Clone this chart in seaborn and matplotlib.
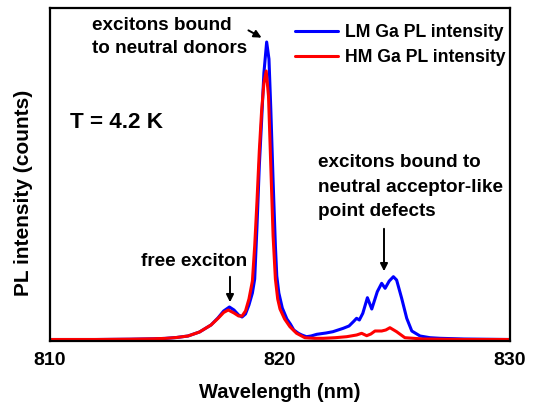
import matplotlib
matplotlib.use("Agg")
import matplotlib.pyplot as plt
from matplotlib.ticker import MultipleLocator
import numpy as np
import pandas as pd
import seaborn as sns

# ---- data (arbitrary intensity units) ----
lm_wavelength = [810.0, 812.0, 813.5, 814.5, 815.0, 815.5, 816.0, 816.5, 817.0, 817.3,
                 817.55, 817.8, 818.0, 818.2, 818.35, 818.5, 818.65, 818.8, 818.9, 819.0,
                 819.1, 819.2, 819.3, 819.42, 819.52, 819.6, 819.7, 819.8, 819.86, 819.95,
                 820.1, 820.3, 820.45, 820.6, 820.8, 820.95, 821.15, 821.35, 821.6, 822.0,
                 822.3, 822.75, 823.0, 823.19, 823.33, 823.45, 823.6, 823.8, 823.99, 824.23,
                 824.42, 824.57, 824.75, 824.93, 825.07, 825.29, 825.51, 825.73, 826.09, 826.52,
                 826.96, 828.0, 830.0]
lm_intensity = [1.5, 1.5, 1.8, 2.2, 2.6, 3.5, 5.0, 9.0, 16.0, 23.0,
                30.0, 34.0, 31.0, 26.0, 24.0, 27.0, 36.0, 48.0, 62.0, 115.0,
                175.0, 220.0, 268.0, 299.0, 282.0, 232.0, 160.0, 95.0, 65.0, 48.0,
                33.0, 22.0, 17.0, 11.0, 7.7, 6.0, 4.3, 5.0, 6.7, 8.0,
                9.3, 12.7, 15.0, 19.3, 22.7, 21.0, 27.7, 43.3, 32.0, 49.3,
                57.7, 52.7, 60.0, 64.3, 61.0, 42.7, 22.7, 10.0, 5.0, 3.3,
                2.7, 2.0, 1.5]

hm_wavelength = [810.0, 812.0, 813.5, 814.5, 815.0, 815.5, 816.0, 816.5, 817.0, 817.3,
                 817.55, 817.75, 818.0, 818.2, 818.35, 818.5, 818.65, 818.8, 818.9, 819.0,
                 819.1, 819.2, 819.3, 819.4, 819.5, 819.6, 819.7, 819.8, 819.9, 820.0,
                 820.2, 820.43, 820.72, 821.08, 821.5, 821.88, 822.4, 822.9, 823.33, 823.55,
                 823.77, 823.95, 824.13, 824.42, 824.6, 824.78, 825.07, 825.43, 826.23, 828.0,
                 830.0]
hm_intensity = [1.5, 1.5, 1.8, 2.2, 2.6, 3.5, 5.0, 9.0, 16.0, 22.5,
                28.5, 31.0, 28.0, 25.0, 25.0, 30.0, 42.0, 60.0, 95.0, 140.0,
                190.0, 230.0, 258.0, 270.0, 245.0, 175.0, 105.0, 62.0, 42.0, 32.0,
                22.0, 14.3, 7.7, 3.3, 2.7, 2.7, 3.3, 4.3, 6.0, 7.7,
                5.3, 7.0, 10.0, 10.0, 11.0, 13.3, 9.3, 3.3, 2.0, 1.5,
                1.5]

series_names = ["LM Ga PL intensity", "HM Ga PL intensity"]
series_colors = ["#0000FF", "#FF0000"]
x_ticks = [810, 820, 830]

df = pd.concat([
    pd.DataFrame({"Wavelength": lm_wavelength, "Intensity": lm_intensity, "Sample": series_names[0]}),
    pd.DataFrame({"Wavelength": hm_wavelength, "Intensity": hm_intensity, "Sample": series_names[1]}),
], ignore_index=True)

sns.set_style("white")
plt.rcParams["font.family"] = ["Liberation Sans", "DejaVu Sans"]
plt.rcParams["font.weight"] = "bold"
plt.rcParams["text.color"] = "black"
plt.rcParams["axes.labelcolor"] = "black"
plt.rcParams["xtick.color"] = "black"
plt.rcParams["ytick.color"] = "black"

fig = plt.figure(figsize=(5.36, 4.11), dpi=100)
ax = fig.add_axes([50 / 536, 1 - 341 / 411, 460 / 536, 333 / 411])

sns.lineplot(data=df, x="Wavelength", y="Intensity", hue="Sample",
             hue_order=series_names, palette=dict(zip(series_names, series_colors)),
             estimator=None, linewidth=2.2, ax=ax)

ax.set_xlim(810, 830)
ax.set_ylim(0, 333)
ax.set_xticks(x_ticks)
ax.set_xticklabels([str(t) for t in x_ticks], fontsize=14, fontweight="bold")
ax.xaxis.set_minor_locator(MultipleLocator(5))
ax.set_yticks([])
ax.tick_params(axis="x", which="major", direction="in", length=5, width=1.5, pad=8, top=False)
ax.tick_params(axis="x", which="minor", direction="in", length=3.5, width=1.5, top=False)
for s in ax.spines.values():
    s.set_linewidth(1.6)
    s.set_color("black")

ax.set_xlabel("Wavelength (nm)", fontsize=14.5, fontweight="bold", labelpad=10)
ax.set_ylabel("PL intensity (counts)", fontsize=15, fontweight="bold")
ax.yaxis.set_label_coords(-0.038, 0.445)

# legend
leg = ax.legend(loc="upper left", bbox_to_anchor=(0.533, 0.952), frameon=False,
                fontsize=12.7, handlelength=2.45, handletextpad=0.4, labelspacing=0.45,
                borderpad=0, borderaxespad=0)
for t in leg.get_texts():
    t.set_fontweight("bold")
for h in leg.get_lines():
    h.set_linewidth(2.2)

# annotations
def px2data(px, py):
    return 810 + (px - 50) / 23.0, 341 - py

fs_ann = 13.6
x, y = px2data(92, 37)
ax.text(x, y, "excitons bound\nto neutral donors", fontsize=fs_ann, fontweight="bold",
        ha="left", va="center", linespacing=1.45)
ax.annotate("", xy=px2data(264, 39), xytext=px2data(246, 29),
            arrowprops=dict(arrowstyle="-|>", color="black", lw=1.4, mutation_scale=11))

x, y = px2data(70, 122)
ax.text(x, y, "T = 4.2 K", fontsize=16.2, fontweight="bold", ha="left", va="center")

x, y = px2data(141, 262)
ax.text(x, y, "free exciton", fontsize=fs_ann, fontweight="bold", ha="left", va="center")
ax.annotate("", xy=px2data(230, 305), xytext=px2data(230, 274),
            arrowprops=dict(arrowstyle="-|>", color="black", lw=1.4, mutation_scale=11))

x, y = px2data(318, 187)
ax.text(x, y, "excitons bound to\nneutral acceptor-like\npoint defects", fontsize=fs_ann,
        fontweight="bold", ha="left", va="center", linespacing=1.55)
ax.annotate("", xy=px2data(384, 274), xytext=px2data(384, 226),
            arrowprops=dict(arrowstyle="-|>", color="black", lw=1.4, mutation_scale=11))

fig.savefig("out.png", dpi=100)
